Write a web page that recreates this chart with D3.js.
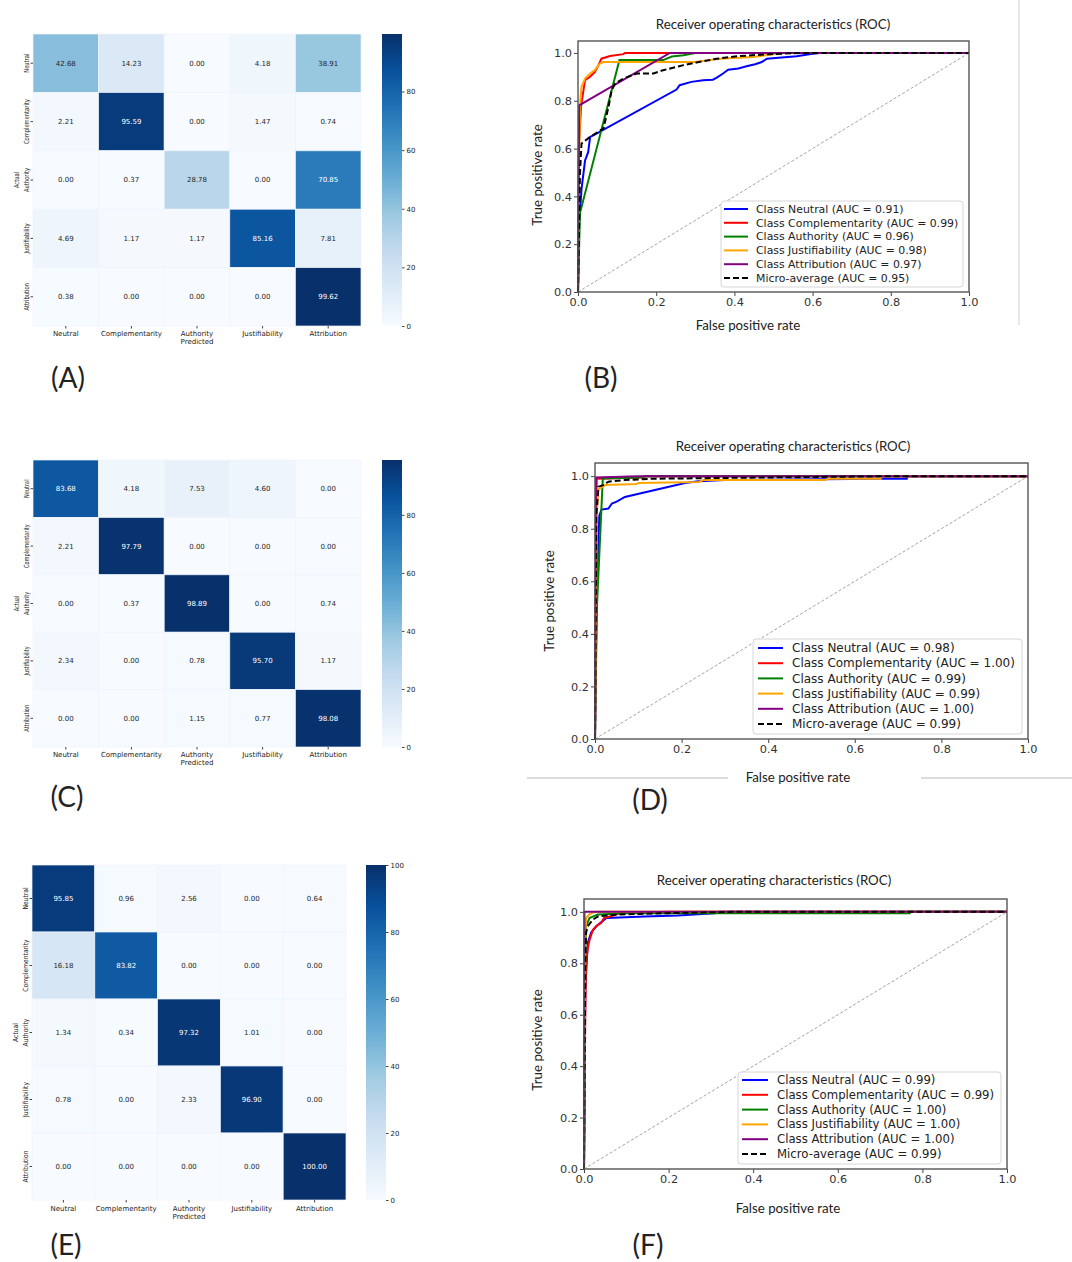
<!DOCTYPE html>
<html>
<head>
<meta charset="utf-8">
<script src="https://cdn.jsdelivr.net/npm/d3@7"></script>
<style>
body { margin: 0; background: #fff; }
svg { display: block; }
</style>
</head>
<body>
<svg id="fig" width="1072" height="1262"></svg>
<script>
"use strict";

// ---- data ----
const classNames = ["Neutral", "Complementarity", "Authority", "Justifiability", "Attribution"];
const classColors = ["#0000ff", "#ff0000", "#008000", "#ffa500", "#800080"];

// confusion matrices (%), rows = actual, cols = predicted
const cmA = [
    [42.68, 14.23, 0.00, 4.18, 38.91],
    [2.21, 95.59, 0.00, 1.47, 0.74],
    [0.00, 0.37, 28.78, 0.00, 70.85],
    [4.69, 1.17, 1.17, 85.16, 7.81],
    [0.38, 0.00, 0.00, 0.00, 99.62]
];
const cmC = [
    [83.68, 4.18, 7.53, 4.60, 0.00],
    [2.21, 97.79, 0.00, 0.00, 0.00],
    [0.00, 0.37, 98.89, 0.00, 0.74],
    [2.34, 0.00, 0.78, 95.70, 1.17],
    [0.00, 0.00, 1.15, 0.77, 98.08]
];
const cmE = [
    [95.85, 0.96, 2.56, 0.00, 0.64],
    [16.18, 83.82, 0.00, 0.00, 0.00],
    [1.34, 0.34, 97.32, 1.01, 0.00],
    [0.78, 0.00, 2.33, 96.90, 0.00],
    [0.00, 0.00, 0.00, 0.00, 100.00]
];
const cbTicksAC = [0, 20, 40, 60, 80];
const cbTicksE = [0, 20, 40, 60, 80, 100];
// "Blues" colour stops
const bluesStops = ["#f7fbff", "#deebf7", "#c6dbef", "#9ecae1", "#6baed6", "#4292c6", "#2171b5", "#08519c", "#08306b"];

// ROC ticks + AUC labels
const rocTicks = [0, 0.2, 0.4, 0.6, 0.8, 1.0];
const aucB = ["0.91", "0.99", "0.96", "0.98", "0.97"];
const aucD = ["0.98", "1.00", "0.99", "0.99", "1.00"];
const aucF = ["0.99", "0.99", "1.00", "1.00", "1.00"];
const microAucB = "0.95";
const microAucD = "0.99";
const microAucF = "0.99";

// ROC curves [fpr, tpr]
const rocB_neutral = [[0, 0], [0.003, 0.29], [0.009, 0.43], [0.018, 0.55], [0.026, 0.585], [0.031, 0.649], [0.039, 0.655], [0.252, 0.847], [0.26, 0.865], [0.29, 0.879], [0.32, 0.886], [0.345, 0.888], [0.355, 0.897], [0.371, 0.914], [0.384, 0.93], [0.41, 0.935], [0.431, 0.944], [0.453, 0.953], [0.47, 0.962], [0.483, 0.976], [0.559, 0.986], [0.6, 0.997], [0.62, 1.0], [1, 1]];
const rocB_compl = [[0, 0], [0.002, 0.6], [0.008, 0.78], [0.018, 0.886], [0.03, 0.9], [0.043, 0.92], [0.052, 0.948], [0.06, 0.976], [0.082, 0.987], [0.116, 0.995], [0.12, 1.0], [1, 1]];
const rocB_authority = [[0, 0], [0.003, 0.2], [0.005, 0.33], [0.106, 0.97], [0.218, 0.97], [0.24, 0.985], [0.27, 0.99], [0.3, 1.0], [1, 1]];
const rocB_justif = [[0, 0], [0.003, 0.6], [0.006, 0.8], [0.009, 0.858], [0.018, 0.893], [0.031, 0.914], [0.043, 0.928], [0.056, 0.956], [0.065, 0.962], [0.3, 0.962], [0.363, 0.976], [0.448, 0.983], [0.5, 0.995], [0.53, 1.0], [1, 1]];
const rocB_attrib = [[0, 0], [0.003, 0.781], [0.235, 1.0], [1, 1]];
const rocB_micro = [[0, 0], [0.005, 0.497], [0.009, 0.621], [0.031, 0.649], [0.065, 0.684], [0.078, 0.774], [0.086, 0.844], [0.095, 0.872], [0.116, 0.893], [0.15, 0.914], [0.193, 0.914], [0.218, 0.928], [0.27, 0.949], [0.303, 0.96], [0.355, 0.976], [0.406, 0.986], [0.49, 0.995], [0.57, 1.0], [1, 1]];

const rocD_neutral = [[0, 0], [0.005, 0.6], [0.01, 0.85], [0.015, 0.873], [0.031, 0.877], [0.039, 0.896], [0.05, 0.903], [0.069, 0.921], [0.208, 0.974], [0.239, 0.981], [0.3, 0.985], [0.66, 0.99], [0.72, 0.99], [0.72, 1.0], [1, 1]];
const rocD_compl = [[0, 0], [0.004, 0.99], [0.11, 0.995], [0.115, 1.0], [1, 1]];
const rocD_authority = [[0, 0], [0.003, 0.45], [0.018, 0.991], [0.1, 0.995], [0.12, 1.0], [1, 1]];
const rocD_justif = [[0, 0], [0.004, 0.85], [0.008, 0.949], [0.023, 0.966], [0.096, 0.97], [0.1, 0.974], [0.24, 0.978], [0.25, 0.985], [0.53, 0.985], [0.54, 0.99], [0.66, 0.99], [0.66, 1.0], [1, 1]];
const rocD_attrib = [[0, 0], [0.002, 0.995], [0.1, 1.0], [1, 1]];
const rocD_micro = [[0, 0], [0.003, 0.85], [0.008, 0.96], [0.019, 0.966], [0.031, 0.979], [0.069, 0.985], [0.131, 0.99], [0.4, 0.995], [0.7, 1.0], [1, 1]];

const rocF_neutral = [[0, 0], [0.003, 0.7], [0.009, 0.88], [0.017, 0.92], [0.029, 0.944], [0.053, 0.976], [0.143, 0.982], [0.222, 0.986], [0.309, 0.995], [0.32, 1.0], [1, 1]];
const rocF_compl = [[0, 0], [0.003, 0.6], [0.005, 0.806], [0.009, 0.858], [0.013, 0.89], [0.021, 0.93], [0.029, 0.944], [0.041, 0.957], [0.047, 0.976], [0.07, 0.986], [0.084, 0.995], [0.2, 1.0], [1, 1]];
const rocF_authority = [[0, 0], [0.003, 0.85], [0.005, 0.944], [0.013, 0.976], [0.033, 0.99], [0.1, 0.995], [0.77, 0.995], [0.77, 1.0], [1, 1]];
const rocF_justif = [[0, 0], [0.003, 0.9], [0.005, 0.976], [0.013, 0.99], [0.021, 0.997], [0.03, 1.0], [1, 1]];
const rocF_attrib = [[0, 0], [0.001, 1.0], [1, 1]];
const rocF_micro = [[0, 0], [0.003, 0.8], [0.005, 0.92], [0.009, 0.944], [0.021, 0.97], [0.033, 0.982], [0.08, 0.99], [0.2, 0.995], [0.35, 1.0], [1, 1]];

// ---- drawing ----
const svg = d3.select("#fig");
const monoFont = "DejaVu Sans, sans-serif";
const labelFont = "Lato, 'Open Sans', sans-serif";

// confusion matrix heatmap + colorbar
function drawHeatmap(id, data, box, cb, cbTicks, rowSquash, labelY) {
    let g = svg.append("g").attr("id", id);
    let idx = d3.range(classNames.length);
    let x = d3.scaleBand().domain(idx).range([box.x0, box.x1]);
    let y = d3.scaleBand().domain(idx).range([box.y0, box.y1]);
    let maxV = d3.max(data.flat());
    let color = d3.scaleLinear()
        .domain(bluesStops.map((c, i) => maxV * i / (bluesStops.length - 1)))
        .range(bluesStops)
        .interpolate(d3.interpolateRgb);

    let cells = [];
    data.forEach(function (row, r) {
        row.forEach(function (v, c) { cells.push({ r: r, c: c, v: v }); });
    });

    g.selectAll("rect.cell").data(cells).enter().append("rect")
        .attr("class", "cell")
        .attr("x", d => x(d.c))
        .attr("y", d => y(d.r))
        .attr("width", x.bandwidth())
        .attr("height", y.bandwidth())
        .attr("fill", d => color(d.v))
        .attr("stroke", "#eef4fb")
        .attr("stroke-width", 0.7);

    g.selectAll("text.val").data(cells).enter().append("text")
        .attr("class", "val")
        .attr("x", d => x(d.c) + x.bandwidth() / 2)
        .attr("y", d => y(d.r) + y.bandwidth() / 2)
        .attr("dy", "0.35em")
        .attr("text-anchor", "middle")
        .attr("font-family", monoFont)
        .attr("font-size", 7)
        .attr("fill", d => d.v / maxV > 0.55 ? "#ffffff" : "#262626")
        .text(d => d3.format(".2f")(d.v));

    // column labels
    let xAxis = g.append("g")
        .attr("transform", "translate(0," + box.y1 + ")")
        .call(d3.axisBottom(x).tickFormat(i => classNames[i]).tickSize(2.5).tickPadding(labelY.pad));
    xAxis.select(".domain").remove();
    xAxis.selectAll("line").attr("stroke", "#444");
    xAxis.selectAll("text").attr("font-family", monoFont).attr("font-size", 7).attr("fill", "#222");

    g.append("text")
        .attr("x", x(2) + x.bandwidth() / 2)
        .attr("y", box.y1 + labelY.pred)
        .attr("text-anchor", "middle")
        .attr("font-family", monoFont)
        .attr("font-size", 7)
        .attr("fill", "#222")
        .text("Predicted");

    // row labels, rotated
    let yAxis = g.append("g")
        .attr("transform", "translate(" + box.x0 + ",0)")
        .call(d3.axisLeft(y).tickFormat(i => classNames[i]).tickSize(2.5));
    yAxis.select(".domain").remove();
    yAxis.selectAll("line").attr("stroke", "#444");
    yAxis.selectAll("text")
        .attr("x", 0).attr("dy", 0)
        .attr("text-anchor", "middle")
        .attr("transform", "translate(-4,0) rotate(-90) scale(" + rowSquash + ",1)")
        .attr("font-family", monoFont).attr("font-size", 7).attr("fill", "#222");

    g.append("text")
        .attr("transform", "translate(" + (box.x0 - 14.5) + "," + (y(2) + y.bandwidth() / 2) + ") rotate(-90) scale(" + rowSquash + ",1)")
        .attr("text-anchor", "middle")
        .attr("font-family", monoFont)
        .attr("font-size", 7)
        .attr("fill", "#222")
        .text("Actual");

    // colorbar
    let gradId = "grad-" + id;
    let grad = svg.append("defs").append("linearGradient")
        .attr("id", gradId)
        .attr("x1", 0).attr("y1", 1).attr("x2", 0).attr("y2", 0);
    grad.selectAll("stop").data(d3.range(0, 1.0001, 0.125)).enter().append("stop")
        .attr("offset", t => (t * 100) + "%")
        .attr("stop-color", t => color(t * maxV));

    g.append("rect")
        .attr("x", cb.x0).attr("y", box.y0)
        .attr("width", cb.x1 - cb.x0).attr("height", box.y1 - box.y0)
        .attr("fill", "url(#" + gradId + ")");

    let cbScale = d3.scaleLinear().domain([0, maxV]).range([box.y1, box.y0]);
    let cbAxis = g.append("g")
        .attr("transform", "translate(" + cb.x1 + ",0)")
        .call(d3.axisRight(cbScale).tickValues(cbTicks).tickSize(2.5).tickPadding(2));
    cbAxis.select(".domain").remove();
    cbAxis.selectAll("line").attr("stroke", "#444");
    cbAxis.selectAll("text").attr("font-family", monoFont).attr("font-size", 7).attr("fill", "#222");
}

// ROC panel
function drawRoc(id, curves, micro, aucs, microAuc, cfg) {
    let g = svg.append("g").attr("id", id);
    let x = d3.scaleLinear().domain([0, 1]).range([cfg.x0, cfg.x1]);
    let y = d3.scaleLinear().domain([0, 1.05]).range([cfg.y1, cfg.y0]);

    let xAxis = g.append("g")
        .attr("transform", "translate(0," + cfg.y1 + ")")
        .call(d3.axisBottom(x).tickValues(rocTicks).tickFormat(d3.format(".1f")).tickSize(4).tickPadding(2));
    let yAxis = g.append("g")
        .attr("transform", "translate(" + cfg.x0 + ",0)")
        .call(d3.axisLeft(y).tickValues(rocTicks).tickFormat(d3.format(".1f")).tickSize(4).tickPadding(2));
    [xAxis, yAxis].forEach(function (a) {
        a.select(".domain").remove();
        a.selectAll("line").attr("stroke", "#444");
        a.selectAll("text").attr("font-family", monoFont).attr("font-size", 11.3).attr("fill", "#333");
    });

    // chance line
    g.append("line")
        .attr("x1", x(0)).attr("y1", y(0))
        .attr("x2", x(1)).attr("y2", y(1))
        .attr("stroke", "#999")
        .attr("stroke-width", 0.9)
        .attr("stroke-dasharray", "3,2");

    let line = d3.line().x(d => x(d[0])).y(d => y(d[1]));
    curves.forEach(function (c, i) {
        g.append("path")
            .datum(c)
            .attr("fill", "none")
            .attr("stroke", classColors[i])
            .attr("stroke-width", 2)
            .attr("d", line);
    });
    g.append("path")
        .datum(micro)
        .attr("fill", "none")
        .attr("stroke", "#000")
        .attr("stroke-width", 2)
        .attr("stroke-dasharray", "6,3")
        .attr("d", line);

    // frame
    g.append("rect")
        .attr("x", cfg.x0).attr("y", cfg.y0)
        .attr("width", cfg.x1 - cfg.x0).attr("height", cfg.y1 - cfg.y0)
        .attr("fill", "none")
        .attr("stroke", "#555")
        .attr("stroke-width", 1.4);

    // legend
    let lg = cfg.legend;
    g.append("rect")
        .attr("x", lg.x0).attr("y", lg.y0)
        .attr("width", lg.x1 - lg.x0).attr("height", lg.y1 - lg.y0)
        .attr("rx", 3)
        .attr("fill", "#fff")
        .attr("fill-opacity", 0.85)
        .attr("stroke", "#d6d6d6");
    let entries = classNames.map(function (n, i) {
        return { label: "Class " + n + " (AUC = " + aucs[i] + ")", color: classColors[i], dash: null };
    });
    entries.push({ label: "Micro-average (AUC = " + microAuc + ")", color: "#000", dash: "6,3" });
    entries.forEach(function (e, i) {
        let yy = lg.row0 + i * lg.step;
        g.append("line")
            .attr("x1", lg.s0).attr("x2", lg.s1)
            .attr("y1", yy).attr("y2", yy)
            .attr("stroke", e.color)
            .attr("stroke-width", 2)
            .attr("stroke-dasharray", e.dash);
        g.append("text")
            .attr("x", lg.tx).attr("y", yy)
            .attr("dy", "0.35em")
            .attr("font-family", monoFont)
            .attr("font-size", lg.fs)
            .attr("fill", "#222")
            .text(e.label);
    });

    // title + axis labels
    g.append("text")
        .attr("x", cfg.title[0]).attr("y", cfg.title[1])
        .attr("text-anchor", "middle")
        .attr("dy", "0.35em")
        .attr("font-family", labelFont)
        .attr("font-size", 13.3)
        .attr("fill", "#222")
        .text("Receiver operating characteristics (ROC)");
    g.append("text")
        .attr("x", cfg.xlab[0]).attr("y", cfg.xlab[1])
        .attr("text-anchor", "middle")
        .attr("dy", "0.35em")
        .attr("font-family", labelFont)
        .attr("font-size", 13.3)
        .attr("fill", "#222")
        .text("False positive rate");
    g.append("text")
        .attr("transform", "translate(" + cfg.ylab[0] + "," + cfg.ylab[1] + ") rotate(-90)")
        .attr("text-anchor", "middle")
        .attr("dy", "0.35em")
        .attr("font-family", labelFont)
        .attr("font-size", 13.3)
        .attr("fill", "#222")
        .text("True positive rate");
}

function panelLabel(txt, cx, cy) {
    svg.append("text")
        .attr("x", cx).attr("y", cy)
        .attr("dy", "0.35em")
        .attr("text-anchor", "middle")
        .attr("font-family", labelFont)
        .attr("font-size", 28)
        .attr("fill", "#222")
        .text(txt);
}

// separators seen in the figure
svg.append("line").attr("x1", 1019).attr("x2", 1019).attr("y1", 0).attr("y2", 325)
    .attr("stroke", "#d0d0d0").attr("stroke-width", 1);
svg.append("line").attr("x1", 527).attr("x2", 728).attr("y1", 778).attr("y2", 778)
    .attr("stroke", "#d0d0d0").attr("stroke-width", 1.5);
svg.append("line").attr("x1", 921).attr("x2", 1072).attr("y1", 778).attr("y2", 778)
    .attr("stroke", "#d0d0d0").attr("stroke-width", 1.5);

drawHeatmap("hmA", cmA, { x0: 33, x1: 361, y0: 34, y1: 326 }, { x0: 382, x1: 402 }, cbTicksAC, 0.74, { pad: 2.5, pred: 17.5 });
drawHeatmap("hmC", cmC, { x0: 33, x1: 361, y0: 460, y1: 747 }, { x0: 382, x1: 402 }, cbTicksAC, 0.72, { pad: 2.5, pred: 17.5 });
drawHeatmap("hmE", cmE, { x0: 32, x1: 346, y0: 865, y1: 1200 }, { x0: 366, x1: 386 }, cbTicksE, 0.86, { pad: 3.5, pred: 19 });

drawRoc("rocB", [rocB_neutral, rocB_compl, rocB_authority, rocB_justif, rocB_attrib], rocB_micro, aucB, microAucB, {
    x0: 578, x1: 969, y0: 41, y1: 292,
    title: [773, 24], xlab: [748, 325], ylab: [537, 175],
    legend: { x0: 721, x1: 963, y0: 201, y1: 287, row0: 209, step: 13.8, s0: 724, s1: 748, tx: 756, fs: 10.9 }
});
drawRoc("rocD", [rocD_neutral, rocD_compl, rocD_authority, rocD_justif, rocD_attrib], rocD_micro, aucD, microAucD, {
    x0: 595, x1: 1028, y0: 463, y1: 739,
    title: [793, 446], xlab: [798, 777], ylab: [549, 601],
    legend: { x0: 753, x1: 1022, y0: 639, y1: 734, row0: 648, step: 15.2, s0: 758, s1: 783, tx: 792, fs: 12 }
});
drawRoc("rocF", [rocF_neutral, rocF_compl, rocF_authority, rocF_justif, rocF_attrib], rocF_micro, aucF, microAucF, {
    x0: 584, x1: 1007, y0: 899, y1: 1169,
    title: [774, 880], xlab: [788, 1208], ylab: [537, 1040],
    legend: { x0: 738, x1: 1001, y0: 1072, y1: 1164, row0: 1080, step: 14.8, s0: 742, s1: 768, tx: 777, fs: 11.7 }
});

panelLabel("(A)", 68, 378);
panelLabel("(B)", 601, 378);
panelLabel("(C)", 67, 797);
panelLabel("(D)", 650, 800);
panelLabel("(E)", 66, 1245);
panelLabel("(F)", 648, 1245);
</script>
</body>
</html>
